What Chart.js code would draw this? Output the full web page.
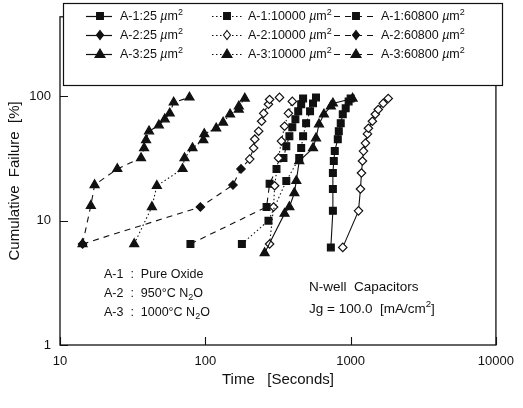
<!DOCTYPE html>
<html><head><meta charset="utf-8">
<script src="https://cdn.jsdelivr.net/npm/chart.js@4.4.0/dist/chart.umd.min.js"></script>
<style>html,body{margin:0;padding:0;background:#fff;overflow:hidden}#wrap{width:523px;height:408px}</style>
</head><body><div id="wrap"><canvas id="c" width="523" height="408"></canvas></div>
<script>
// ---- tick labels ----
const xTicks = [10, 100, 1000, 10000];
const yTicks = [1, 10, 100];

// ---- series: time [s] and cumulative failure [%] ----
const a1_25_t = [731, 755, 755, 755, 766, 778, 816, 829, 855, 883, 925, 969, 1000];
const a1_25_f = [6.1, 12.0, 18.0, 24.2, 30.2, 36.3, 45.3, 52.5, 60.8, 71.8, 80.2, 91.2, 96.3];
const a2_25_t = [883, 1133, 1169, 1188, 1207, 1226, 1265, 1306, 1326, 1412, 1479, 1550, 1675, 1815];
const a2_25_f = [6.1, 12.0, 18.0, 24.2, 30.2, 36.3, 42.1, 49.9, 55.4, 63.1, 71.8, 78.5, 87.9, 96.3];
const a3_25_t = [256, 351, 379, 410, 423, 443, 551, 578, 606, 655, 731, 755, 1032];
const a3_25_f = [5.5, 11.4, 12.9, 16.7, 20.9, 30.2, 38.4, 46.1, 59.7, 71.8, 83.2, 87.9, 96.3];

const a1_10000_t = [178.5, 272, 361, 443, 457, 471, 494, 526, 551, 578];
const a1_10000_f = [6.5, 10.0, 20.9, 31.9, 38.4, 47.9, 60.8, 75.9, 87.9, 98.2];
const a2_10000_t = [277, 295, 300, 319, 334, 351, 373, 397];
const a2_10000_f = [6.5, 12.9, 19.1, 31.9, 43.7, 57.6, 73.1, 91.2];
const a3_10000_t = [32.4, 42.9, 46.4, 69.8, 71.9, 81.6, 96.9, 98.4, 118.8, 132.6, 148, 170, 170, 187];
const a3_10000_f = [6.5, 12.9, 19.1, 26.1, 31.9, 38.4, 44.5, 49.9, 55.4, 61.7, 71.8, 78.5, 83.2, 96.3];

const a1_60800_t = [79, 264, 277, 309, 345, 361, 379, 397, 417, 436, 457, 471];
const a1_60800_f = [6.5, 12.9, 19.8, 26.1, 31.9, 39.8, 47.9, 56.5, 65.5, 75.9, 86.5, 96.3];
const a2_60800_t = [14.3, 92.5, 155, 176, 202, 215, 219, 233, 244, 252, 272, 277, 324];
const a2_60800_f = [6.5, 12.9, 19.4, 26.1, 31.3, 38.4, 45.3, 52.5, 63.1, 73.1, 86.5, 94.5, 98.2];
const a3_60800_t = [14.3, 16.3, 17.3, 24.8, 36.1, 37.9, 39.1, 41.0, 47.9, 52.6, 56.9, 60.6, 77.8];
const a3_60800_f = [6.5, 13.2, 19.4, 26.1, 31.9, 38.4, 44.5, 52.5, 58.6, 65.5, 73.1, 89.5, 98.2];

const labels = ['A-1:25', 'A-2:25', 'A-3:25', 'A-1:10000', 'A-2:10000', 'A-3:10000', 'A-1:60800', 'A-2:60800', 'A-3:60800'];

const INK = '#111';
const pts = (t, f) => t.map((v, i) => ({x: v, y: f[i]}));
const styleOf = {
  rect: {pointStyle: 'rect', pointRadius: 4.8},
  rectRot: {pointStyle: 'rectRot', pointRadius: 4.2},
  triangle: {pointStyle: 'triangle', pointRadius: 5.2}
};
// open: true = all hollow, number n = hollow from index n on
function ds(label, t, f, shape, dash, open) {
  let bg = INK;
  if (open === true) bg = '#fff';
  else if (typeof open === 'number') bg = t.map((_, i) => i >= open ? '#fff' : INK);
  return Object.assign({
    label, data: pts(t, f), borderColor: INK, borderWidth: 1.1, borderDash: dash,
    pointBackgroundColor: bg, pointBorderColor: INK, pointBorderWidth: 1.2,
    showLine: true, fill: false, tension: 0, legendOpen: open === true, shape
  }, styleOf[shape]);
}
const SOLID = [], DOT = [1.5, 2.5], DASH = [6, 5];
const datasets = [
  ds(labels[0], a1_25_t, a1_25_f, 'rect', SOLID, false),
  ds(labels[1], a2_25_t, a2_25_f, 'rectRot', SOLID, true),
  ds(labels[2], a3_25_t, a3_25_f, 'triangle', SOLID, false),
  ds(labels[3], a1_10000_t, a1_10000_f, 'rect', DOT, false),
  ds(labels[4], a2_10000_t, a2_10000_f, 'rectRot', DOT, true),
  ds(labels[5], a3_10000_t, a3_10000_f, 'triangle', DOT, false),
  ds(labels[6], a1_60800_t, a1_60800_f, 'rect', DASH, false),
  ds(labels[7], a2_60800_t, a2_60800_f, 'rectRot', DASH, 4),
  ds(labels[8], a3_60800_t, a3_60800_f, 'triangle', DASH, false)
];

const FONT = '"Liberation Sans", Arial, Helvetica, sans-serif';

function drawSegs(ctx, x, y, segs, size) {
  let cx = x;
  for (const [txt, st] of segs) {
    let fs = size, dy = 0, it = '';
    if (st === 'sub') { fs = size * 0.72; dy = size * 0.3; }
    if (st === 'sup') { fs = size * 0.72; dy = -size * 0.38; }
    if (st === 'i') it = 'italic ';
    ctx.font = it + fs + 'px ' + FONT;
    ctx.fillText(txt, cx, y + dy);
    cx += ctx.measureText(txt).width;
  }
}

function marker(ctx, shape, x, y, open) {
  ctx.save();
  ctx.setLineDash([]);
  ctx.beginPath();
  if (shape === 'rect') { ctx.rect(x - 3.4, y - 3.4, 6.8, 6.8); }
  else if (shape === 'rectRot') { ctx.moveTo(x, y - 4.5); ctx.lineTo(x + 3.5, y); ctx.lineTo(x, y + 4.5); ctx.lineTo(x - 3.5, y); ctx.closePath(); }
  else { ctx.moveTo(x, y - 5); ctx.lineTo(x + 5, y + 3.5); ctx.lineTo(x - 5, y + 3.5); ctx.closePath(); }
  ctx.fillStyle = open ? '#fff' : INK;
  ctx.fill();
  ctx.lineWidth = 1.1; ctx.strokeStyle = INK; ctx.stroke();
  ctx.restore();
}

const decor = {
  id: 'decor',
  afterDraw(chart) {
    const {ctx, chartArea: a, scales: {x, y}} = chart;
    ctx.save();
    ctx.strokeStyle = INK; ctx.fillStyle = INK; ctx.lineWidth = 1.3; ctx.setLineDash([]);
    ctx.strokeRect(a.left, a.top, a.right - a.left, a.bottom - a.top);
    ctx.lineWidth = 1.1;
    ctx.beginPath();
    for (const v of xTicks) { const px = Math.round(x.getPixelForValue(v)) + 0.5; ctx.moveTo(px, a.bottom); ctx.lineTo(px, a.bottom - 8); }
    for (const v of yTicks) { const py = Math.round(y.getPixelForValue(v)) + 0.5; ctx.moveTo(a.left, py); ctx.lineTo(a.left + 8, py); }
    ctx.stroke();

    // legend box
    const L = 63, T = 3, R = 502, B = 85;
    ctx.fillStyle = '#fff';
    ctx.fillRect(L, T, R - L, B - T);
    ctx.lineWidth = 1.2; ctx.strokeRect(L + 0.5, T + 0.5, R - L, B - T);
    ctx.fillStyle = INK;
    const rowsY = [16, 35, 54];
    const cols = [
      {s0: 86, s1: 112, m: 100, tx: 120, line: SOLID},
      {s0: 212, s1: 242, m: 227, tx: 248, line: DOT},
      {s0: 334, s1: 374, m: 356, tx: 381, line: DASH}
    ];
    ctx.textBaseline = 'middle';
    for (let c = 0; c < 3; c++) {
      for (let r = 0; r < 3; r++) {
        const d = chart.data.datasets[c * 3 + r];
        const col = cols[c], yy = rowsY[r];
        ctx.save();
        ctx.lineWidth = 1.2; ctx.strokeStyle = INK; ctx.setLineDash(col.line);
        ctx.beginPath(); ctx.moveTo(col.s0, yy + 0.5); ctx.lineTo(col.s1, yy + 0.5); ctx.stroke();
        ctx.restore();
        marker(ctx, d.shape, col.m, yy, d.legendOpen && c === 1);
        ctx.fillStyle = INK;
        drawSegs(ctx, col.tx, yy + 1, [[d.label + ' ', 'n'], ['µ', 'i'], ['m', 'n'], ['2', 'sup']], 12.5);
      }
    }

    // annotations
    ctx.textBaseline = 'middle';
    ctx.fillStyle = INK;
    drawSegs(ctx, 104, 275, [['A-1  :  Pure Oxide', 'n']], 12.5);
    drawSegs(ctx, 104, 294, [['A-2  :  950°C N', 'n'], ['2', 'sub'], ['O', 'n']], 12.5);
    drawSegs(ctx, 104, 313, [['A-3  :  1000°C N', 'n'], ['2', 'sub'], ['O', 'n']], 12.5);
    drawSegs(ctx, 309, 287, [['N-well  Capacitors', 'n']], 13.5);
    drawSegs(ctx, 309, 309, [['Jg = 100.0  [mA/cm', 'n'], ['2', 'sup'], [']', 'n']], 13.5);
    ctx.restore();
  }
};

new Chart(document.getElementById('c'), {
  type: 'scatter',
  data: {datasets},
  options: {
    responsive: false, animation: false, devicePixelRatio: 1,
    layout: {padding: {top: 16, right: 21, left: 0, bottom: 0}},
    plugins: {legend: {display: false}, tooltip: {enabled: false}},
    scales: {
      x: {
        type: 'logarithmic', min: 10, max: 10000,
        afterBuildTicks: s => { s.ticks = xTicks.map(v => ({value: v})); },
        afterFit: s => { s.height = 63; },
        grid: {display: false, drawTicks: false}, border: {display: false},
        ticks: {color: INK, padding: 9, maxRotation: 0, autoSkip: false, font: {family: FONT, size: 13}, callback: v => String(v)},
        title: {display: true, text: 'Time   [Seconds]', color: INK, font: {family: FONT, size: 15}, padding: {top: 0, bottom: 19}}
      },
      y: {
        type: 'logarithmic', min: 1, max: 437,
        afterBuildTicks: s => { s.ticks = yTicks.map(v => ({value: v})); },
        afterFit: s => { s.width = 60; },
        grid: {display: false, drawTicks: false}, border: {display: false},
        ticks: {color: INK, padding: 9, autoSkip: false, font: {family: FONT, size: 13}, callback: v => String(v)},
        title: {display: true, text: 'Cumulative  Failure  [%]', color: INK, font: {family: FONT, size: 15}, padding: {top: 6, bottom: 0}}
      }
    }
  },
  plugins: [decor]
});
</script></body></html>
